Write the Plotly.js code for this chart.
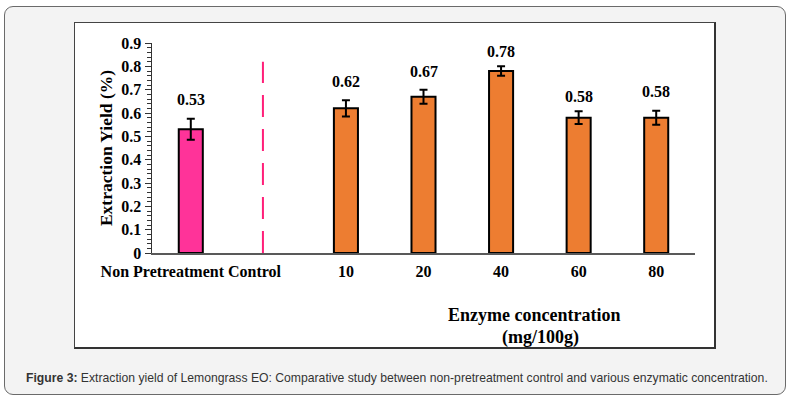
<!DOCTYPE html>
<html><head><meta charset="utf-8">
<script src="https://cdn.plot.ly/plotly-3.0.1.min.js"></script>
<style>
html,body{margin:0;padding:0;background:#fff;}
#card{position:absolute;left:4px;top:6px;width:782px;height:389px;background:#f3f3f3;border:1px solid #6a6a6a;border-radius:9px;box-sizing:border-box;}
#box{position:absolute;left:74px;top:22px;width:642px;height:327px;background:#fff;border-left:1px solid #444;border-top:1px solid #444;border-right:2px solid #333;border-bottom:2px solid #333;box-sizing:border-box;}
#chart{position:absolute;left:0;top:0;width:797px;height:412px;}
</style></head>
<body>
<div id="card"></div>
<div id="box"></div>
<div id="chart"></div>
<script>
const categories = ["Non Pretreatment Control", "", "10", "20", "40", "60", "80"];
const yieldValues = [0.53, null, 0.62, 0.67, 0.78, 0.58, 0.58];
const errorValues = [0.045, null, 0.035, 0.03, 0.02, 0.027, 0.03];
const valueLabels = ["0.53", "", "0.62", "0.67", "0.78", "0.58", "0.58"];
const labelShift = [18, 0, 17, 17, 13, 13, 18];
const yTicks = [0, 0.1, 0.2, 0.3, 0.4, 0.5, 0.6, 0.7, 0.8, 0.9];
const yTickText = ["0", "0.1", "0.2", "0.3", "0.4", "0.5", "0.6", "0.7", "0.8", "0.9"];

const xIdx = categories.map((c, i) => i);
const colors = categories.map((c, i) => i === 0 ? "#FF3399" : "#ED7D31");

const serif = "Liberation Serif, Times New Roman, serif";

const trace = {
  type: "bar",
  x: xIdx,
  y: yieldValues,
  width: 0.31,
  marker: {color: colors, line: {color: "#000", width: 2}},
  error_y: {type: "data", array: errorValues, visible: true, color: "#000", thickness: 2, width: 4},
  hoverinfo: "x+y"
};

const annotations = [];
xIdx.forEach(i => {
  if (yieldValues[i] === null) return;
  annotations.push({
    x: i, y: yieldValues[i] + errorValues[i], xref: "x", yref: "y",
    text: valueLabels[i], showarrow: false, yanchor: "bottom", yshift: labelShift[i] - 9,
    font: {family: serif, size: 16, color: "#000", weight: "bold"}
  });
});
annotations.push({
  xref: "paper", yref: "paper", x: (534 - 152) / 543, y: -62 / 210, xanchor: "center", yanchor: "middle",
  text: "<b>Enzyme concentration</b>", showarrow: false,
  font: {family: serif, size: 18, color: "#000"}
});
annotations.push({
  xref: "paper", yref: "paper", x: (540 - 152) / 543, y: -84 / 210, xanchor: "center", yanchor: "middle",
  text: "<b>(mg/100g)</b>", showarrow: false,
  font: {family: serif, size: 18, color: "#000"}
});
annotations.push({
  xref: "paper", yref: "paper", x: (24 - 152) / 543, y: -125 / 210, xanchor: "left", yanchor: "middle",
  text: "<b>Figure 3:</b> Extraction yield of Lemongrass EO: Comparative study between non-pretreatment control and various enzymatic concentration.",
  showarrow: false,
  font: {family: "Liberation Sans, Arial, sans-serif", size: 12.2, color: "#333"}
});

const layout = {
  width: 797, height: 412,
  margin: {l: 152, r: 102, t: 43, b: 159},
  paper_bgcolor: "rgba(0,0,0,0)",
  plot_bgcolor: "rgba(0,0,0,0)",
  showlegend: false,
  xaxis: {
    range: [-0.5, 6.5],
    tickmode: "array", tickvals: xIdx, ticktext: categories,
    ticks: "", showgrid: false, zeroline: false,
    showline: true, linecolor: "#595959", linewidth: 1.5,
    ticklabelstandoff: 3,
    tickfont: {family: serif, size: 16, color: "#000", weight: "bold"},
    fixedrange: true
  },
  yaxis: {
    range: [0, 0.9],
    tickmode: "array", tickvals: yTicks, ticktext: yTickText,
    ticks: "outside", ticklen: 6, tickwidth: 1, tickcolor: "#333",
    minor: {dtick: 0.02, ticks: "outside", ticklen: 4, tickwidth: 1, tickcolor: "#333", showgrid: false},
    showgrid: false, zeroline: false,
    showline: true, linecolor: "#333", linewidth: 1.5,
    tickfont: {family: serif, size: 16, color: "#000", weight: "bold"},
    title: {text: "<b>Extraction Yield (%)</b>", standoff: 4, font: {family: serif, size: 17.5, color: "#000"}},
    fixedrange: true
  },
  shapes: [{
    type: "line", xref: "x", yref: "y", x0: 0.93, x1: 0.93, y0: 0, y1: 0.82,
    line: {color: "#FF1F78", width: 2, dash: "22px,12px"}
  }],
  annotations: annotations,
  bargap: 0.5
};

Plotly.newPlot("chart", [trace], layout, {displayModeBar: false, staticPlot: true});
</script>
</body></html>
